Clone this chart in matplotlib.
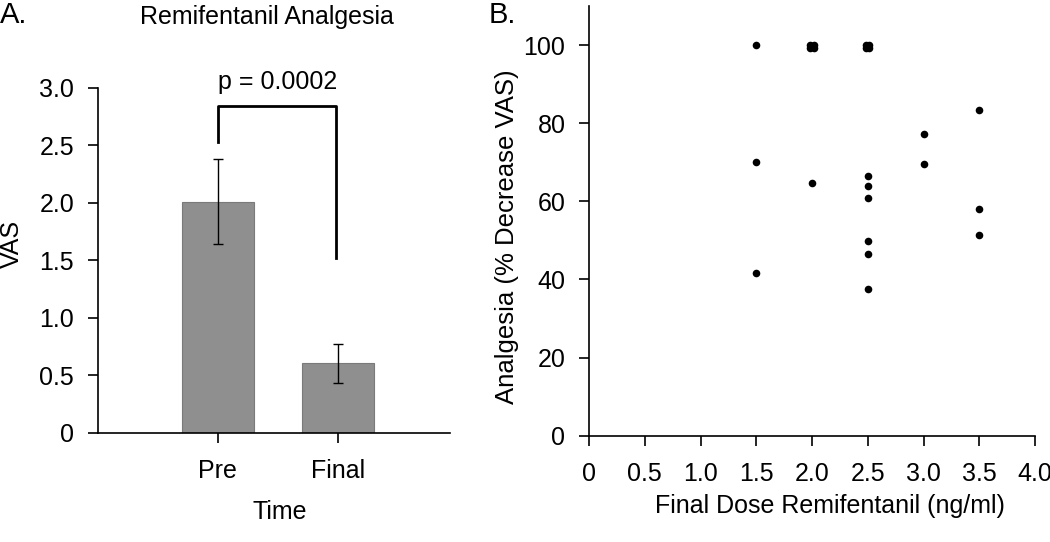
import matplotlib
matplotlib.use("Agg")
import matplotlib.pyplot as plt

plt.rcParams['font.family'] = ['Liberation Sans', 'DejaVu Sans']

# Panel A data
times = ["Pre", "Final"]
vas_mean = [2.01, 0.605]
vas_se = [0.37, 0.17]
p_text = "p = 0.0002"

# Panel B data
dose = [1.5, 1.5, 1.5,
        1.985, 2.015, 1.985, 2.015, 2.0,
        2.485, 2.515, 2.485, 2.515, 2.5, 2.5, 2.5, 2.5, 2.5, 2.5,
        3.0, 3.0,
        3.5, 3.5, 3.5]
analgesia = [100, 70.0, 41.7,
             100, 100, 99.2, 99.2, 64.7,
             100, 100, 99.2, 99.2, 66.6, 64.0, 60.9, 49.9, 46.6, 37.5,
             77.3, 69.5,
             83.3, 58.1, 51.3]

fig = plt.figure(figsize=(10.5, 5.42), dpi=100)

# ---- A ----
ax = fig.add_axes([0.093, 0.2017, 0.3355, 0.636])
xpos = [1, 2]
ax.bar(xpos, vas_mean, width=0.6, color="#8f8f8f", edgecolor="#7a7a7a", linewidth=0.8,
       yerr=vas_se, error_kw=dict(ecolor="black", elinewidth=1, capsize=3.5, capthick=1))
ax.set_xlim(0, 2.93)
ax.set_ylim(0, 3.0)
ax.set_xticks(xpos)
ax.set_xticklabels(times)
ax.set_yticks([0, 0.5, 1.0, 1.5, 2.0, 2.5, 3.0])
ax.set_yticklabels(["0", "0.5", "1.0", "1.5", "2.0", "2.5", "3.0"])
for s in ["top", "right"]:
    ax.spines[s].set_visible(False)
for s in ["left", "bottom"]:
    ax.spines[s].set_linewidth(1.2)
ax.tick_params(direction="out", length=7, width=1.2, labelsize=18, pad=10)
ax.tick_params(axis="x", pad=12)
ax.set_xlabel("Time", fontsize=18)
ax.set_ylabel("VAS", fontsize=18)
ax.xaxis.set_label_coords(0.518, -0.195)
ax.yaxis.set_label_coords(-0.208, 0.548)

# significance bracket
ax.plot([1, 1, 1.98, 1.98], [2.53, 2.84, 2.84, 1.52], color="black", lw=2, clip_on=False)
ax.text(1.5, 3.05, p_text, ha="center", va="center", fontsize=18, clip_on=False)
fig.text(0.254, 0.968, "Remifentanil Analgesia", fontsize=18, ha="center", va="center")
fig.text(0.0, 0.972, "A.", fontsize=21, ha="left", va="center")

# ---- B ----
bx = fig.add_axes([0.561, 0.196, 0.4248, 0.793])
bx.scatter(dose, analgesia, s=30, color="black", linewidths=0)
bx.set_xlim(0, 4.0)
bx.set_ylim(0, 110)
bx.set_xticks([0, 0.5, 1.0, 1.5, 2.0, 2.5, 3.0, 3.5, 4.0])
bx.set_xticklabels(["0", "0.5", "1.0", "1.5", "2.0", "2.5", "3.0", "3.5", "4.0"])
bx.set_yticks([0, 20, 40, 60, 80, 100])
for s in ["top", "right"]:
    bx.spines[s].set_visible(False)
for s in ["left", "bottom"]:
    bx.spines[s].set_linewidth(1.2)
bx.tick_params(direction="out", length=7, width=1.2, labelsize=18, pad=10)
bx.tick_params(axis="x", pad=12)
bx.set_xlabel("Final Dose Remifentanil (ng/ml)", fontsize=18)
bx.set_ylabel("Analgesia (% Decrease VAS)", fontsize=18.5)
bx.xaxis.set_label_coords(0.54, -0.135)
bx.yaxis.set_label_coords(-0.158, 0.463)
fig.text(0.465, 0.972, "B.", fontsize=21, ha="left", va="center")

fig.savefig("out.png", dpi=100)
